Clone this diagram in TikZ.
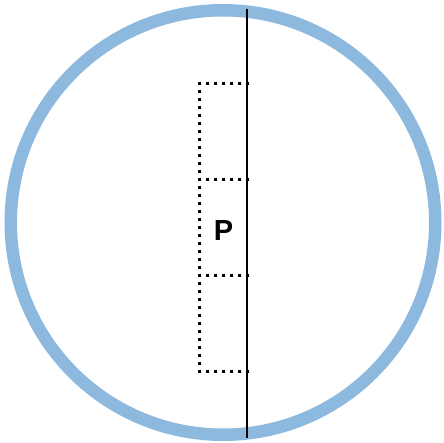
\documentclass[tikz,border=0pt]{standalone}
\usepackage{fontspec}
\setmainfont{Liberation Sans}
\definecolor{ringblue}{HTML}{8DB9DE}
\begin{document}
\begin{tikzpicture}[x=1pt,y=-1pt,
  ring/.style={draw=ringblue,line width=12.5pt},
  axis/.style={draw=black,line width=2pt},
  dot/.style={fill=black}]
\useasboundingbox (0,0) rectangle (444,443);
\fill[white] (0,0) rectangle (444,443);
\node[circle,ring,minimum size=424.5pt,inner sep=0pt] (ring) at (223,222.5) {};
\coordinate (top) at (247.3,9);
\coordinate (bot) at (247.3,438);
\coordinate (a1) at (199.5,83.5);
\coordinate (a2) at (199.5,179.5);
\coordinate (a3) at (199.5,275.5);
\coordinate (a4) at (199.5,371.5);
% left dotted edge
\foreach \k in {0,...,36}
  \fill[dot,shift={(a1)}] (-1.4,8*\k-1.4) rectangle ++(2.8,2.8);
% dotted rungs
\foreach \r in {a1,a2,a3,a4}
  \foreach \k in {1,...,6}
    \fill[dot,shift={(\r)}] (8*\k-1.4,-1.4) rectangle ++(2.8,2.8);
\draw[axis] (top) -- (bot);
\node[font=\bfseries\fontsize{29}{29}\selectfont,inner sep=0pt] (p) at (223.5,230.5) {P};
\end{tikzpicture}
\end{document}
